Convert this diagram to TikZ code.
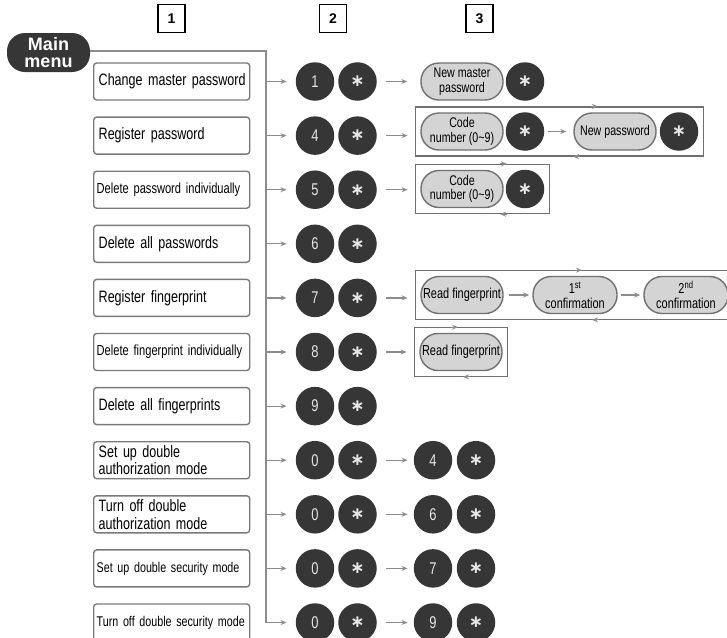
\documentclass[tikz,border=0pt]{standalone}
\usepackage{fontspec}
\setmainfont{Liberation Sans}[FakeStretch=0.76]
\newfontfamily\hdfont{Liberation Sans}
\newfontfamily\symfont{DejaVu Sans}
\usetikzlibrary{arrows.meta,fit,calc}
\definecolor{dark}{HTML}{363636}
\definecolor{pillfill}{HTML}{D4D4D4}
\definecolor{pillline}{HTML}{707070}
\definecolor{boxline}{HTML}{7A7A7A}
\definecolor{conncol}{HTML}{8C8C8C}
\definecolor{digit}{HTML}{E6E6E6}
\tikzset{
  menubox/.style={draw=boxline, line width=1.4pt, rounded corners=3pt, minimum width=156pt, minimum height=37pt, text width=146pt, align=left, inner xsep=5pt, inner ysep=1pt, font=\fontsize{16.5}{17.6}\selectfont, anchor=west},
  smalltxt/.style={font=\fontsize{14.6}{16}\selectfont, inner xsep=3pt, text width=150pt},
  tinytxt/.style={font=\fontsize{14.1}{16}\selectfont, inner xsep=3pt, text width=150pt},
  key/.style={circle, fill=dark, minimum size=38.5pt, inner sep=0pt, text=digit, font=\fontsize{17}{17}\selectfont},
  star/.style={key, font=\symfont\bfseries\fontsize{17}{17}\selectfont},
  pill/.style={draw=pillline, fill=pillfill, line width=1.4pt, rounded corners=18pt, minimum width=82pt, minimum height=37pt, inner sep=1pt, align=center, font=\fontsize{14}{14.5}\selectfont},
  pilltxt/.style={font=\fontsize{14.4}{14.5}\selectfont},
  loopframe/.style={draw=pillline, line width=1.3pt, inner sep=5pt},
  conn/.style={draw=conncol, line width=1.2pt, -{Stealth[length=6pt,width=5pt]}},
  loopmark/.style={draw=conncol, line width=1pt, -{Stealth[length=6pt,width=5pt]}},
  hdr/.style={draw, line width=1.1pt, minimum width=27pt, minimum height=28pt, inner sep=0pt, font=\hdfont\bfseries\fontsize{14}{14}\selectfont},
}
\begin{document}
\begin{tikzpicture}[x=1pt,y=-1pt]
\useasboundingbox (0,0) rectangle (727,637);
% headers
\node[hdr] (h1) at (171.5,18.5) {1};
\node[hdr] (h2) at (333,18.5) {2};
\node[hdr] (h3) at (479.5,18.5) {3};
% main menu
\node[fill=dark, rounded corners=18pt, minimum width=83pt, minimum height=39pt, text=white, font=\hdfont\bfseries\fontsize{18}{17}\selectfont, align=center, inner sep=0pt] (mm) at (48.5,52.5) {Main\\menu};
% left boxes
\node[menubox] (b1) at (93,81.5) {\mbox{Change master password}};
\node[menubox] (b2) at (93,135.6) {\mbox{Register password}};
\node[menubox, smalltxt] (b3) at (93,189.7) {\mbox{Delete password individually}};
\node[menubox] (b4) at (93,243.8) {\mbox{Delete all passwords}};
\node[menubox] (b5) at (93,297.9) {\mbox{Register fingerprint}};
\node[menubox, smalltxt] (b6) at (93,352.0) {\mbox{Delete fingerprint individually}};
\node[menubox] (b7) at (93,406.1) {\mbox{Delete all fingerprints}};
\node[menubox] (b8) at (93,460.2) {\mbox{Set up double}\\\mbox{authorization mode}};
\node[menubox] (b9) at (93,514.3) {\mbox{Turn off double}\\\mbox{authorization mode}};
\node[menubox, tinytxt] (b10) at (93,568.4) {\mbox{Set up double security mode}};
\node[menubox, tinytxt] (b11) at (93,622.5) {\mbox{Turn off double security mode}};
% trunk coordinates
\coordinate (top) at (266,51);
\foreach \i/\y in {1/81.5,2/135.6,3/189.7,4/243.8,5/297.9,6/352.0,7/406.1,8/460.2,9/514.3,10/568.4,11/622.5}{
  \coordinate (t\i) at (266,\y);
}
% keys column 2
\foreach \i/\y/\d in {1/81.5/1,2/135.6/4,3/189.7/5,4/243.8/6,5/297.9/7,6/352.0/8,7/406.1/9,8/460.2/0,9/514.3/0,10/568.4/0,11/622.5/0}{
  \node[key] (k\i a) at (315,\y) {\d};
  \node[star] (k\i b) at (357.5,\y) {∗};
}
% keys column 3 (rows 8-11)
\foreach \i/\y/\d in {8/460.2/4,9/514.3/6,10/568.4/7,11/622.5/9}{
  \node[key] (k\i c) at (433,\y) {\d};
  \node[star] (k\i d) at (476,\y) {∗};
}
% row 1
\node[pill] (p1) at (462,81.5) {New master\\password};
\node[star] (s1) at (525,81.5) {∗};
% row 2
\node[pill] (p2a) at (462,131.5) {Code\\number (0\textasciitilde 9)};
\node[star] (s2a) at (525,131.5) {∗};
\node[pill] (p2b) at (615,131.5) {New password};
\node[star] (s2b) at (679,131.5) {∗};
\node[loopframe, fit=(p2a)(s2b)] (f2) {};
% row 3
\node[pill] (p3) at (462,189) {Code\\number (0\textasciitilde 9)};
\node[star] (s3) at (525,189) {∗};
\node[loopframe, fit=(p3)(s3)] (f3) {};
% row 5
\node[pill, pilltxt] (p5a) at (462,295) {Read fingerprint};
\node[pill, pilltxt, minimum width=84pt] (p5b) at (575,295) {1\textsuperscript{st}\\confirmation};
\node[pill, pilltxt, minimum width=84pt] (p5c) at (686,295) {2\textsuperscript{nd}\\confirmation};
\node[loopframe, fit=(p5a)(p5c)] (f5) {};
% row 6
\node[pill, pilltxt] (p6) at (461,352) {Read fingerprint};
\node[loopframe, fit=(p6)] (f6) {};
% trunk and branches
\draw[conn, shorten >=9pt] (mm.east |- top) -- (top) -- (t11) -- (k11a);
\foreach \i in {1,...,10}{
  \draw[conn, shorten >=9pt] (t\i) -- (k\i a);
}
% column 2 -> column 3
\draw[conn, shorten <=9pt, shorten >=13pt] (k1b) -- (p1);
\draw[conn, shorten <=9pt, shorten >=7pt] (k2b) -- (k2b -| f2.west);
\draw[conn, shorten <=9pt, shorten >=7pt] (k3b) -- (k3b -| f3.west);
\draw[conn, shorten <=9pt, shorten >=7pt] (k5b) -- (k5b -| f5.west);
\draw[conn, shorten <=9pt, shorten >=7pt] (k6b) -- (k6b -| f6.west);
\foreach \i in {8,...,11}{
  \draw[conn, shorten <=9pt, shorten >=6pt] (k\i b) -- (k\i c);
}
% inner arrows
\draw[conn, shorten <=4pt, shorten >=7pt] (s2a) -- (p2b);
\draw[conn, shorten <=5pt, shorten >=3pt] (p5a) -- (p5b);
\draw[conn, shorten <=3pt, shorten >=3pt] (p5b) -- (p5c);
% loop markers on frames
\draw[loopmark] (591,0 |- f2.north) -- (598,0 |- f2.north);
\draw[loopmark] (580,0 |- f2.south) -- (573,0 |- f2.south);
\draw[loopmark] (500,0 |- f3.north) -- (507,0 |- f3.north);
\draw[loopmark] (507,0 |- f3.south) -- (500,0 |- f3.south);
\draw[loopmark] (575,0 |- f5.north) -- (582,0 |- f5.north);
\draw[loopmark] (599,0 |- f5.south) -- (592,0 |- f5.south);
\draw[loopmark] (451,0 |- f6.north) -- (458,0 |- f6.north);
\draw[loopmark] (470,0 |- f6.south) -- (463,0 |- f6.south);
\end{tikzpicture}
\end{document}
